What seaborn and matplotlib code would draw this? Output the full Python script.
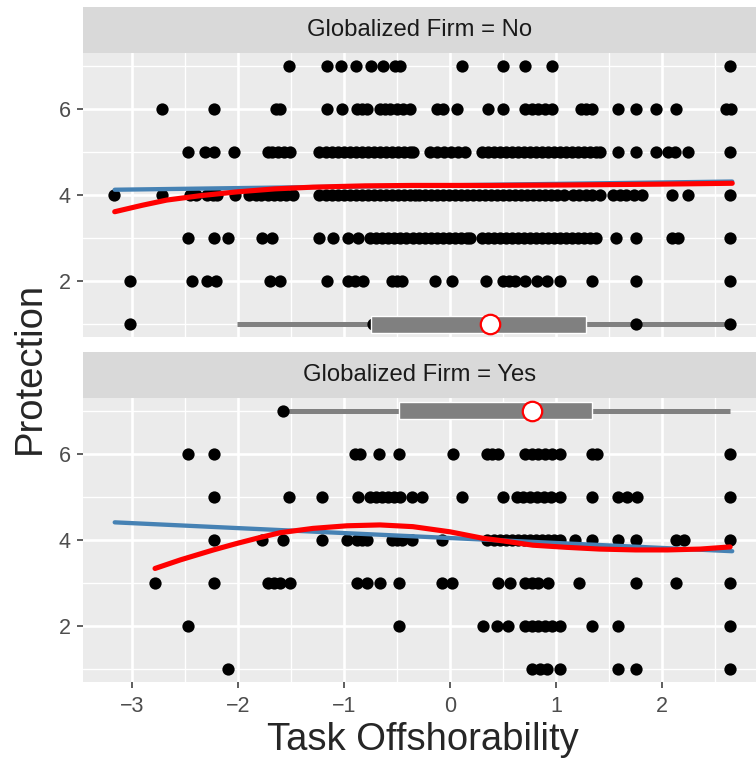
import matplotlib
matplotlib.use("Agg")
import matplotlib.pyplot as plt
import seaborn as sns
import numpy as np
import pandas as pd

# Task offshorability values for each protection level, globalized firm = No
no_7 = [-1.52, -1.16, -1.03, -0.89, -0.74, -0.63, -0.52, -0.47, 0.11, 0.50, 0.71, 0.96, 2.64]
no_6 = [-2.71, -2.22, -1.64, -1.60, -1.16, -1.02, -0.88, -0.83, -0.78, -0.66, -0.61, -0.57,
        -0.50, -0.44, -0.38, -0.12, -0.07, 0.07, 0.36, 0.50, 0.71, 0.77, 0.83, 0.90, 0.96,
        1.23, 1.28, 1.34, 1.58, 1.75, 1.94, 2.13, 2.60, 2.65]
no_5 = [-2.47, -2.31, -2.22, -2.04, -1.72, -1.68, -1.62, -1.56, -1.51, -1.23, -1.17, -1.11,
        -1.06, -1.00, -0.94, -0.89, -0.83, -0.77, -0.72, -0.66, -0.60, -0.55, -0.49, -0.43,
        -0.38, -0.35, -0.19, -0.12, -0.06, 0.01, 0.08, 0.14, 0.30, 0.36, 0.41, 0.47, 0.53,
        0.58, 0.64, 0.70, 0.75, 0.81, 0.87, 0.92, 0.98, 1.04, 1.09, 1.15, 1.21, 1.26, 1.32,
        1.38, 1.41, 1.58, 1.75, 1.94, 2.05, 2.12, 2.24, 2.64]
no_4 = [-3.17, -2.71, -2.45, -2.39, -2.29, -2.23, -2.20, -2.03, -1.89, -1.83, -1.78, -1.72,
        -1.66, -1.60, -1.55, -1.48, -1.23, -1.17, -1.11, -1.06, -1.00, -0.94, -0.89, -0.83,
        -0.77, -0.72, -0.66, -0.60, -0.55, -0.49, -0.43, -0.38, -0.33, -0.29, -0.24, -0.18,
        -0.12, -0.07, -0.01, 0.05, 0.10, 0.16, 0.22, 0.27, 0.33, 0.39, 0.44, 0.50, 0.56,
        0.61, 0.67, 0.73, 0.78, 0.84, 0.90, 0.95, 1.01, 1.07, 1.16, 1.22, 1.28, 1.34, 1.41,
        1.54, 1.60, 1.66, 1.73, 1.81, 2.09, 2.24, 2.64]
no_3 = [-2.47, -2.22, -2.09, -1.77, -1.68, -1.23, -1.10, -0.96, -0.87, -0.75, -0.70, -0.64,
        -0.58, -0.53, -0.47, -0.41, -0.35, -0.29, -0.24, -0.18, -0.12, -0.07, -0.01, 0.05,
        0.10, 0.16, 0.19, 0.30, 0.36, 0.41, 0.47, 0.53, 0.58, 0.64, 0.70, 0.75, 0.81, 0.87,
        0.92, 0.98, 1.04, 1.09, 1.15, 1.21, 1.26, 1.32, 1.38, 1.56, 1.75, 2.09, 2.15, 2.64]
no_2 = [-3.02, -2.43, -2.29, -2.21, -1.70, -1.60, -1.16, -0.96, -0.90, -0.82, -0.55, -0.50,
        -0.45, -0.14, 0.02, 0.34, 0.50, 0.56, 0.61, 0.71, 0.82, 0.91, 1.04, 1.34, 1.75, 2.64]
no_1 = [-3.02, -0.73, 1.75, 2.64]

# globalized firm = Yes
yes_7 = [-1.57]
yes_6 = [-2.47, -2.22, -0.90, -0.85, -0.67, -0.48, 0.03, 0.35, 0.40, 0.45, 0.71, 0.77, 0.83,
         0.90, 0.96, 1.04, 1.34, 1.39, 2.64]
yes_5 = [-2.22, -1.52, -1.21, -0.87, -0.75, -0.70, -0.64, -0.58, -0.53, -0.47, -0.36, -0.26,
         0.11, 0.50, 0.63, 0.69, 0.75, 0.82, 0.89, 0.95, 1.04, 1.34, 1.58, 1.67, 1.76, 2.64]
yes_4 = [-2.22, -1.77, -1.57, -1.21, -0.97, -0.88, -0.83, -0.78, -0.55, -0.50, -0.45, -0.36,
         -0.08, 0.35, 0.41, 0.47, 0.53, 0.58, 0.64, 0.70, 0.75, 0.81, 0.87, 0.92, 0.98, 1.04,
         1.18, 1.34, 1.58, 1.75, 2.13, 2.21, 2.64]
yes_3 = [-2.78, -2.22, -1.72, -1.66, -1.60, -1.51, -0.88, -0.78, -0.66, -0.48, -0.08, 0.02,
         0.45, 0.57, 0.71, 0.77, 0.83, 0.92, 1.22, 1.75, 2.13, 2.64]
yes_2 = [-2.47, -0.48, 0.31, 0.44, 0.55, 0.71, 0.77, 0.83, 0.90, 0.96, 1.04, 1.34, 1.58, 2.64]
yes_1 = [-2.09, 0.77, 0.85, 0.91, 1.04, 1.58, 1.75, 2.64]

# boxplot summaries of offshorability: [lower whisker, q1, q3, upper whisker], mean, drawn at protection level
box_no = [-2.01, -0.74, 1.28, 2.64]
mean_no = 0.38
box_no_level = 1
box_yes = [-1.57, -0.48, 1.34, 2.64]
mean_yes = 0.77
box_yes_level = 7

# linear fits
lin_x = [-3.16, 2.66]
lin_no_y = [4.12, 4.31]
lin_yes_y = [4.41, 3.74]

# smooth fits
smooth_no_x = [-3.16, -2.9, -2.67, -2.36, -2.01, -1.65, -1.29, -0.8, -0.35, 0.4, 1.10, 2.0, 2.66]
smooth_no_y = [3.61, 3.76, 3.88, 3.98, 4.07, 4.14, 4.18, 4.21, 4.22, 4.22, 4.23, 4.25, 4.27]
smooth_yes_x = [-2.78, -2.54, -2.23, -2.01, -1.82, -1.60, -1.29, -0.97, -0.66, -0.35, 0.00,
                0.31, 0.47, 0.78, 1.10, 1.41, 1.75, 2.05, 2.36, 2.64]
smooth_yes_y = [3.34, 3.54, 3.77, 3.92, 4.04, 4.17, 4.27, 4.33, 4.35, 4.31, 4.19, 4.04, 3.99,
                3.88, 3.83, 3.79, 3.77, 3.77, 3.79, 3.84]

x_ticks = [-3, -2, -1, 0, 1, 2]
x_minor = [-2.5, -1.5, -0.5, 0.5, 1.5, 2.5]
y_ticks = [2, 4, 6]
y_minor = [1, 3, 5, 7]


def build(levels):
    rows = []
    for level, xs in levels.items():
        for v in xs:
            rows.append({"offshore": v, "protection": level})
    return pd.DataFrame(rows)


df_no = build({7: no_7, 6: no_6, 5: no_5, 4: no_4, 3: no_3, 2: no_2, 1: no_1})
df_yes = build({7: yes_7, 6: yes_6, 5: yes_5, 4: yes_4, 3: yes_3, 2: yes_2, 1: yes_1})

sns.set_style("darkgrid", {"axes.facecolor": "#EBEBEB", "grid.color": "white"})
plt.rcParams["font.family"] = ["Liberation Sans", "DejaVu Sans"]

fig = plt.figure(figsize=(7.56, 7.63), dpi=100)

panels = [
    (df_no, box_no, mean_no, box_no_level, lin_no_y, smooth_no_x, smooth_no_y,
     "Globalized Firm = No", 0.5581, 0.9309),
    (df_yes, box_yes, mean_yes, box_yes_level, lin_yes_y, smooth_yes_x, smooth_yes_y,
     "Globalized Firm = Yes", 0.1058, 0.4786),
]

for i, (df, box, mean, level, lin_y, sx, sy, title, bot, strip_bot) in enumerate(panels):
    ax = fig.add_axes([0.1102, bot, 0.8898, 0.3729])

    # whisker
    ax.hlines(level, box[0], box[3], color="#808080", lw=3.6, zorder=2)

    sns.scatterplot(data=df, x="offshore", y="protection", color="black", s=78,
                    linewidth=0, ax=ax, zorder=3, legend=False)

    sns.lineplot(x=lin_x, y=lin_y, color="#4682B4", lw=3.1, ax=ax, zorder=4)
    sns.lineplot(x=sx, y=sy, color="#FF0000", lw=3.7, ax=ax, zorder=5)

    # box and mean
    ax.barh(level, box[2] - box[1], left=box[1], height=0.4, color="#808080", zorder=6)
    ax.plot([mean], [level], marker="o", ms=14, mfc="white", mec="#FF0000", mew=1.6,
            ls="none", zorder=7)

    ax.set_xlim(-3.456, 2.884)
    ax.set_ylim(0.7, 7.3)
    ax.set_xticks(x_ticks)
    ax.set_xticks(x_minor, minor=True)
    ax.set_yticks(y_ticks)
    ax.set_yticks(y_minor, minor=True)
    ax.grid(which="major", color="white", lw=1.9)
    ax.grid(which="minor", color="white", lw=0.95)
    ax.set_axisbelow(True)
    for sp in ax.spines.values():
        sp.set_visible(False)
    ax.tick_params(which="minor", length=0)
    ax.tick_params(axis="y", which="major", length=4.3, width=1.1, color="#333333",
                   pad=5, labelsize=15.5, labelcolor="#4D4D4D", left=True)
    if i == 1:
        ax.tick_params(axis="x", which="major", length=4.3, width=1.1, color="#333333",
                       pad=5.5, labelsize=15.5, labelcolor="#4D4D4D", bottom=True)
    else:
        ax.tick_params(axis="x", which="major", length=0, labelbottom=False)
    ax.set_xlabel("")
    ax.set_ylabel("")

    sax = fig.add_axes([0.1102, strip_bot, 0.8898, 0.0599])
    sax.set_facecolor("#D9D9D9")
    sax.set_xticks([])
    sax.set_yticks([])
    sax.grid(False)
    for sp in sax.spines.values():
        sp.set_visible(False)
    sax.text(0.5, 0.5, title, ha="center", va="center", fontsize=17.2, color="#1A1A1A",
             transform=sax.transAxes)

fig.text(0.040, 0.5177, "Protection", rotation=90, ha="center", va="center", fontsize=27.5)
fig.text(0.5595, 0.0301, "Task Offshorability", ha="center", va="center", fontsize=27.5)

fig.savefig("out.png", dpi=100)
